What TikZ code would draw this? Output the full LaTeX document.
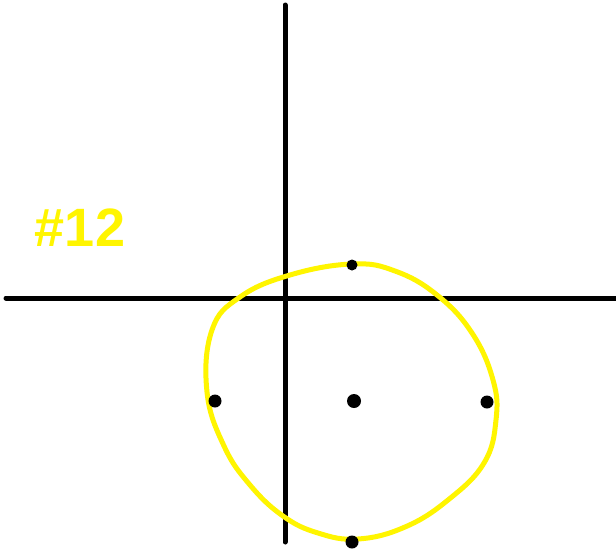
\documentclass[tikz,border=0pt]{standalone}
\usepackage{fontspec}
\setmainfont{Liberation Sans}
\definecolor{hlyellow}{RGB}{255,245,0}
\begin{document}
\begin{tikzpicture}[x=1pt,y=-1pt,
  axis/.style={line width=5pt,line cap=round,black},
  ring/.style={line width=5pt,hlyellow},
  dotnode/.style={circle,fill=black,inner sep=0pt,minimum width=13pt,minimum height=13pt}]
\useasboundingbox (0,0) rectangle (616,552);
\fill[white] (0,0) rectangle (616,552);
% axes
\coordinate (ytop) at (285,5);
\coordinate (ybot) at (285,542);
\coordinate (xl) at (6,298);
\coordinate (xr) at (616,298);
\draw[axis] (ytop) -- (ybot);
\draw[axis] (xl) -- (xr);
% yellow circle
\draw[ring] plot[smooth cycle,tension=0.7] coordinates {
 (352,264) (395,271) (437,295) (472,333) (493,380) (496,420) (484,463)
 (448,500) (405,527) (358,539) (318,533) (283,516) (250,485) (224,446)
 (207,392) (212,330) (240,297) (290,275)};
% dots
\node[dotnode,minimum width=11pt,minimum height=11pt] (d1) at (352,265) {};
\node[dotnode,minimum width=12pt] (d2) at (215,401) {};
\node[dotnode,minimum width=14pt] (d3) at (354,401) {};
\node[dotnode] (d4) at (487,402) {};
\node[dotnode,minimum width=11pt] (d5) at (352,542) {};
% label
\node[text=hlyellow,font=\fontsize{54}{54}\selectfont\bfseries,inner sep=0pt] (lab) at (80,228) {\#12};
\end{tikzpicture}
\end{document}
